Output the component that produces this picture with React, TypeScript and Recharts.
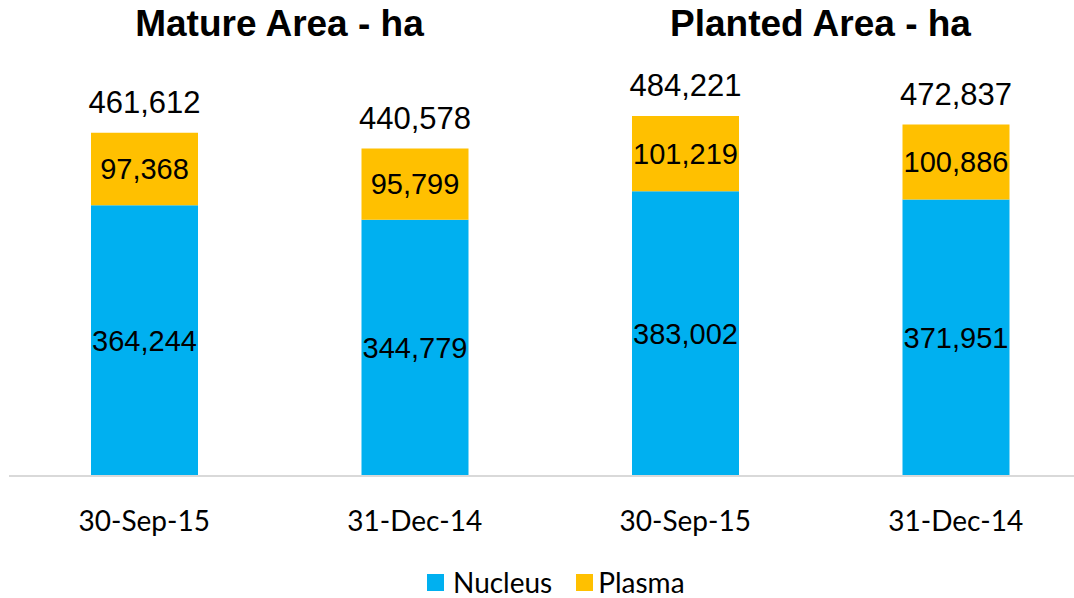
import React from 'react';
import { BarChart, Bar, XAxis, YAxis, LabelList, Legend, Customized } from 'recharts';

const categoryKeys = ['mature-sep15', 'mature-dec14', 'planted-sep15', 'planted-dec14'];
const categoryLabels = ['30-Sep-15', '31-Dec-14', '30-Sep-15', '31-Dec-14'];
const nucleusValues = [364244, 344779, 383002, 371951];
const plasmaValues = [97368, 95799, 101219, 100886];
const totalValues = [461612, 440578, 484221, 472837];
const groupTitles = ['Mature Area - ha', 'Planted Area - ha'];

const data = categoryKeys.map((key, i) => ({
  key,
  label: categoryLabels[i],
  Nucleus: nucleusValues[i],
  Plasma: plasmaValues[i],
  total: totalValues[i],
}));

const NUCLEUS_COLOR = '#00B0F0';
const PLASMA_COLOR = '#FFC000';
const fmt = (v: number) => v.toLocaleString('en-US');

const Titles = () => {
  const left = 9;
  const plotW = 1082;
  const band = plotW / 4;
  const centers = [left + band, left + band * 3];
  return (
    <g>
      {groupTitles.map((t, i) => (
        <text
          key={t}
          x={centers[i]}
          y={36}
          textAnchor="middle"
          fontFamily="'Liberation Sans', Arial, sans-serif"
          fontWeight="bold"
          fontSize={37}
          fill="#000"
        >
          {t}
        </text>
      ))}
    </g>
  );
};

const LegendContent = () => (
  <div style={{ display: 'flex', alignItems: 'center', marginLeft: 427, fontFamily: 'Lato, sans-serif', fontSize: 28, color: '#000' }}>
    <span style={{ display: 'inline-block', width: 17, height: 17, background: NUCLEUS_COLOR, marginRight: 9 }} />
    <span style={{ marginRight: 24 }}>Nucleus</span>
    <span style={{ display: 'inline-block', width: 17, height: 17, background: PLASMA_COLOR, marginRight: 5 }} />
    <span>Plasma</span>
  </div>
);

export default function App() {
  return (
    <div style={{ position: 'absolute', left: 0, top: 0, width: 1074, height: 598, background: '#fff' }}>
      <BarChart
        width={1074}
        height={598}
        data={data}
        margin={{ top: 30, right: -17, left: 9, bottom: 62 }}
        barCategoryGap={0}
      >
        <XAxis
          dataKey="key"
          tickFormatter={(_v: any, i: number) => categoryLabels[i]}
          axisLine={{ stroke: '#D9D9D9', strokeWidth: 2 }}
          tickLine={false}
          tickSize={0}
          tickMargin={35}
          height={60}
          interval={0}
          tick={{ fontFamily: 'Lato, sans-serif', fontSize: 28, fill: '#000' }}
        />
        <YAxis hide domain={[0, 600000]} />
        <Legend
          verticalAlign="middle"
          layout="horizontal"
          content={<LegendContent />}
          wrapperStyle={{ top: 565, left: 0, width: 1074, height: 32 }}
        />
        <Bar dataKey="Nucleus" stackId="a" fill={NUCLEUS_COLOR} barSize={107} isAnimationActive={false}>
          <LabelList
            dataKey="Nucleus"
            position="center"
            formatter={(v: any) => fmt(v)}
            style={{ fontFamily: "'Liberation Sans', Arial, sans-serif", fontSize: 29, fill: '#000' }}
          />
        </Bar>
        <Bar dataKey="Plasma" stackId="a" fill={PLASMA_COLOR} barSize={107} isAnimationActive={false}>
          <LabelList
            dataKey="Plasma"
            position="center"
            formatter={(v: any) => fmt(v)}
            style={{ fontFamily: "'Liberation Sans', Arial, sans-serif", fontSize: 29, fill: '#000' }}
          />
          <LabelList
            dataKey="total"
            position="top"
            offset={20}
            formatter={(v: any) => fmt(v)}
            style={{ fontFamily: "'Liberation Sans', Arial, sans-serif", fontSize: 31, fill: '#000' }}
          />
        </Bar>
        <Customized component={Titles} />
      </BarChart>
    </div>
  );
}
